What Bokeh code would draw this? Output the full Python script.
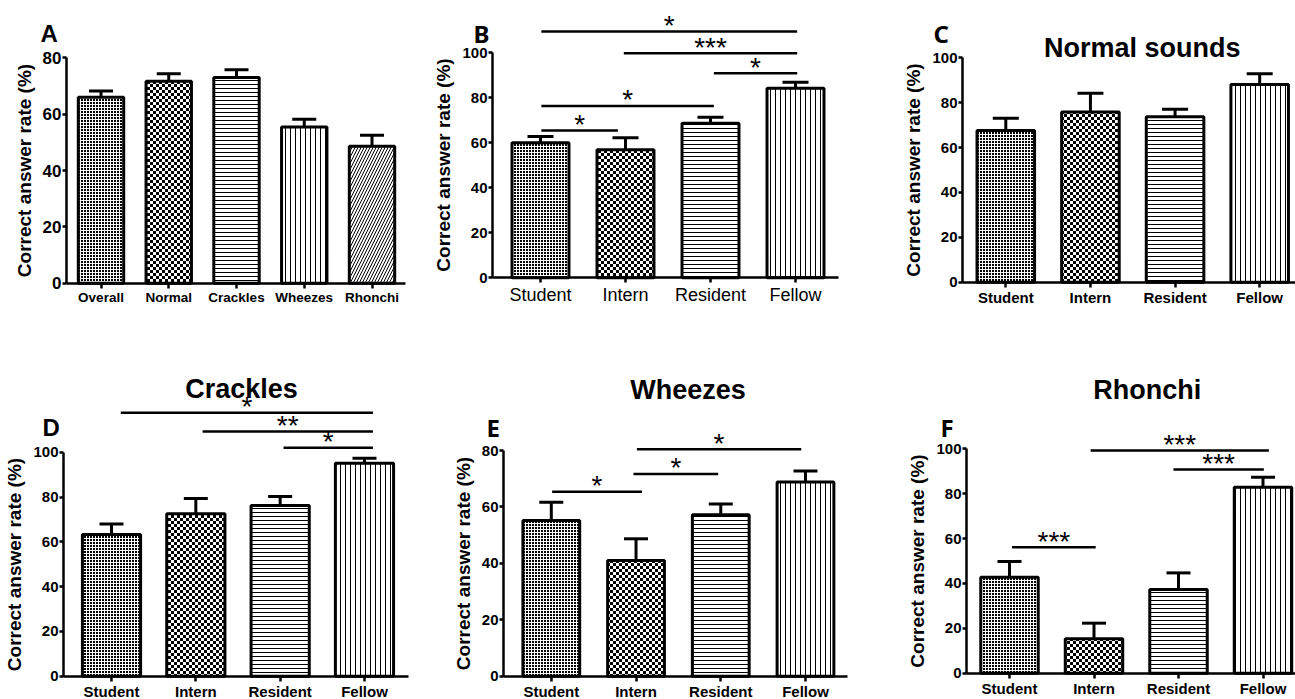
from bokeh.plotting import figure
from bokeh.models import (ColumnDataSource, Range1d, FixedTicker, Whisker, TeeHead,
                          Label, CanvasTexture)
from bokeh.layouts import row, column
from bokeh.embed import file_html
from bokeh.resources import INLINE
from bokeh.core.properties import value

# ---------------- data ----------------
sound_categories = ["Overall", "Normal", "Crackles", "Wheezes", "Rhonchi"]
sound_means = [66.0, 71.7, 73.0, 55.4, 48.6]
sound_sems = [2.2, 2.6, 2.8, 2.8, 3.9]

groups = ["Student", "Intern", "Resident", "Fellow"]

overall_means = [60.0, 56.9, 68.7, 84.3]
overall_sems = [2.8, 5.3, 2.7, 2.6]
overall_sig_x0 = [0.01, 0.98, 2.04, 0.01, 0.01]
overall_sig_x1 = [3.02, 3.02, 3.02, 2.04, 0.91]
overall_sig_y = [109.5, 99.8, 90.9, 76.4, 65.5]
overall_sig_text = ["*", "***", "*", "*", "*"]

normal_means = [67.6, 75.8, 73.7, 88.1]
normal_sems = [5.5, 8.4, 3.4, 4.8]

crackles_means = [63.3, 72.5, 76.2, 95.1]
crackles_sems = [4.7, 6.8, 4.0, 2.2]
crackles_sig_x0 = [0.11, 1.08, 2.04]
crackles_sig_x1 = [3.10, 3.10, 3.10]
crackles_sig_y = [117.6, 109.2, 102.0]
crackles_sig_text = ["*", "**", "*"]

wheezes_means = [55.2, 41.0, 57.2, 68.8]
wheezes_sems = [6.5, 7.7, 3.8, 3.9]
wheezes_sig_x0 = [0.01, 0.97, 1.01]
wheezes_sig_x1 = [1.07, 1.97, 2.95]
wheezes_sig_y = [65.4, 71.7, 80.4]
wheezes_sig_text = ["*", "*", "*"]

rhonchi_means = [42.8, 15.3, 37.3, 82.9]
rhonchi_sems = [7.0, 7.0, 7.4, 4.4]
rhonchi_sig_x0 = [0.03, 0.96, 1.94]
rhonchi_sig_x1 = [1.02, 3.07, 3.01]
rhonchi_sig_y = [56.1, 99.2, 90.8]
rhonchi_sig_text = ["***", "***", "***"]

# ---------------- styles ----------------
FONT = "Liberation Sans"
textures = {
    "fine": CanvasTexture(code=(
        "var c=ctx.canvas;c.width=3;c.height=3;ctx.fillStyle='black';"
        "ctx.fillRect(0,0,2,2);")),
    "checker": CanvasTexture(code=(
        "var c=ctx.canvas;c.width=6;c.height=6;ctx.fillStyle='black';"
        "ctx.fillRect(0,0,3,3);ctx.fillRect(3,3,3,3);")),
    "hlines": CanvasTexture(code=(
        "var c=ctx.canvas;c.width=4;c.height=4;ctx.fillStyle='black';"
        "ctx.fillRect(0,0,4,1);")),
    "vlines": CanvasTexture(code=(
        "var c=ctx.canvas;c.width=5;c.height=5;ctx.fillStyle='black';"
        "ctx.fillRect(0,0,1,5);")),
}
pattern_scale = {"fine": 3, "checker": 6, "hlines": 4, "vlines": 5,
                 "right_diagonal_line": 6}
group_patterns = ["fine", "checker", "hlines", "vlines"]
sound_patterns = ["fine", "checker", "hlines", "vlines", "right_diagonal_line"]


def make_panel(g, cats, means, sems, patterns, y_axis_max, letter, title=None,
               sig=None):
    W, H = g["w"], g["h"]
    fl, ft = g["fig_left"], g["fig_top"]
    y0_px = g["y0"]
    c0, sx = g["c0"], g["sx"]
    py = (y0_px - g["ytop_px"]) / y_axis_max

    def dx(px):
        return (px - c0) / sx

    def dy(px):
        return (y0_px - px) / py

    x_range = Range1d(dx(fl), dx(fl + W))
    y_range = Range1d(dy(ft + H), dy(ft))
    axis_x = dx(g["axis_px"])

    p = figure(width=W, height=H, x_range=x_range, y_range=y_range,
               output_backend="svg", toolbar_location=None,
               min_border_left=0, min_border_right=0,
               min_border_top=0, min_border_bottom=0)
    p.outline_line_color = None
    p.xgrid.visible = False
    p.ygrid.visible = False
    p.background_fill_color = "white"
    p.border_fill_color = "white"

    n = len(cats)
    xs = list(range(n))
    src = ColumnDataSource(dict(
        x=xs, top=means, upper=[m + s for m, s in zip(means, sems)],
        pat=patterns, scale=[pattern_scale[k] for k in patterns]))
    p.vbar(x="x", top="top", bottom=0, width=g["bar_w"], source=src,
           fill_color="white", line_color="black", line_width=3,
           hatch_pattern="pat", hatch_scale="scale", hatch_weight=1,
           hatch_color="black", hatch_extra=textures)
    p.add_layout(Whisker(source=src, base="x", lower="top", upper="upper",
                         dimension="height", line_color="black", line_width=3,
                         lower_head=None, level="glyph",
                         upper_head=TeeHead(size=g["cap"], line_color="black",
                                            line_width=3)))

    if sig is not None:
        x0, x1, yv, txt = sig
        ssrc = ColumnDataSource(dict(x0=x0, x1=x1, y=yv, text=txt,
                                     xm=[(a + b) / 2 for a, b in zip(x0, x1)]))
        p.segment(x0="x0", y0="y", x1="x1", y1="y", source=ssrc,
                  line_color="black", line_width=2.5)
        p.text(x="xm", y="y", text="text", source=ssrc,
               text_font=value(FONT), text_font_size="28px",
               text_align="center", text_baseline="alphabetic",
               y_offset=g["star_off"], text_color="black")

    # axes
    ya = p.yaxis[0]
    ya.fixed_location = axis_x
    ya.bounds = (0, y_axis_max)
    ya.ticker = FixedTicker(ticks=list(range(0, y_axis_max + 1, 20)))
    ya.axis_line_width = 2.5
    ya.major_tick_line_width = 2.5
    ya.major_tick_out = 4
    ya.major_tick_in = 0
    ya.minor_tick_out = 0
    ya.minor_tick_in = 0
    ya.major_label_standoff = 1
    ya.major_label_text_font = FONT
    ya.major_label_text_font_style = "bold"
    ya.major_label_text_font_size = g["ytick_size"]
    ya.major_label_text_color = "black"
    ya.axis_label = "Correct answer rate (%)"
    ya.axis_label_text_font = FONT
    ya.axis_label_text_font_style = "bold"
    ya.axis_label_text_font_size = "19px"
    ya.axis_label_text_color = "black"
    ya.axis_label_standoff = g["lab_off"]

    xa = p.xaxis[0]
    xa.fixed_location = 0
    xa.bounds = (axis_x, dx(g["frame_right"]))
    xa.ticker = FixedTicker(ticks=xs)
    xa.major_label_overrides = {i: c for i, c in enumerate(cats)}
    xa.axis_line_width = 2.5
    xa.major_tick_line_width = 2.5
    xa.major_tick_out = g["xtick_out"]
    xa.major_tick_in = 0
    xa.minor_tick_out = 0
    xa.minor_tick_in = 0
    xa.major_label_standoff = g["xlab_standoff"]
    xa.major_label_text_font = FONT
    xa.major_label_text_font_style = g["xlab_style"]
    xa.major_label_text_font_size = g["xlab_size"]
    xa.major_label_text_color = "black"

    lx, lb, lfont = g["letter"]
    p.add_layout(Label(x=dx(lx), y=dy(lb), text=letter,
                       text_font=lfont, text_font_size="24px",
                       text_font_style="bold", text_align="left",
                       text_baseline="alphabetic", text_color="black"))
    if title is not None:
        tx, tb = g["title"]
        p.add_layout(Label(x=dx(tx), y=dy(tb), text=title, text_font=FONT,
                           text_font_size="27px", text_font_style="bold",
                           text_align="center", text_baseline="alphabetic",
                           text_color="black"))
    return p


top = dict(h=320, fig_top=0, y0=281, xtick_out=5, cap=26,
           star_off=-6, ytick_size="15px", xlab_standoff=2, xlab_style="bold",
           xlab_size="15px", lab_off=5)
bot = dict(h=379, fig_top=320, y0=675, xtick_out=5, cap=24,
           star_off=-6, ytick_size="15px", xlab_standoff=2, xlab_style="bold",
           xlab_size="15px", lab_off=5)

gA = dict(top, w=430, fig_left=0, axis_px=66, frame_right=405, y0=282.7,
          ytop_px=57.3, c0=100.5, sx=67.75, bar_w=0.67, cap=24,
          ytick_size="17px", xlab_size="13.5px", letter=(40, 33, FONT))
gB = dict(top, w=430, fig_left=430, axis_px=492, frame_right=838, y0=277.3,
          ytop_px=52.3, c0=540, sx=85, bar_w=0.67, xlab_style="normal",
          xlab_size="18px", letter=(473, 33, "Noto Sans"))
gC = dict(top, w=435, fig_left=860, axis_px=962, frame_right=1295, y0=281.7,
          ytop_px=57.3, c0=1005.3, sx=84.63, bar_w=0.68,
          letter=(933, 33, "Noto Sans"), title=(1141.7, 47))
gD = dict(bot, w=430, fig_left=0, axis_px=63, frame_right=408, y0=675.7,
          ytop_px=451.7, c0=111, sx=84.33, bar_w=0.69, letter=(42, 427, FONT),
          title=(241, 388))
gE = dict(bot, w=430, fig_left=430, axis_px=503, frame_right=847, y0=675.7,
          ytop_px=450, c0=550.8, sx=84.73, bar_w=0.67,
          letter=(486, 427, "Noto Sans"), title=(687.5, 389))
gF = dict(bot, w=435, fig_left=860, axis_px=966, frame_right=1295, y0=672.7,
          ytop_px=448.3, c0=1009, sx=84.5, bar_w=0.68,
          letter=(940, 427, "Noto Sans"), title=(1146.7, 389))

pA = make_panel(gA, sound_categories, sound_means, sound_sems, sound_patterns,
                80, "A")
pB = make_panel(gB, groups, overall_means, overall_sems, group_patterns, 100,
                "B", sig=(overall_sig_x0, overall_sig_x1, overall_sig_y,
                          overall_sig_text))
pC = make_panel(gC, groups, normal_means, normal_sems, group_patterns, 100,
                "C", title="Normal sounds")
pD = make_panel(gD, groups, crackles_means, crackles_sems, group_patterns, 100,
                "D", title="Crackles",
                sig=(crackles_sig_x0, crackles_sig_x1, crackles_sig_y,
                     crackles_sig_text))
pE = make_panel(gE, groups, wheezes_means, wheezes_sems, group_patterns, 80,
                "E", title="Wheezes",
                sig=(wheezes_sig_x0, wheezes_sig_x1, wheezes_sig_y,
                     wheezes_sig_text))
pF = make_panel(gF, groups, rhonchi_means, rhonchi_sems, group_patterns, 100,
                "F", title="Rhonchi",
                sig=(rhonchi_sig_x0, rhonchi_sig_x1, rhonchi_sig_y,
                     rhonchi_sig_text))

layout = column(row(pA, pB, pC, spacing=0), row(pD, pE, pF, spacing=0),
                spacing=0)

open("out.html", "w").write(file_html(layout, INLINE))
